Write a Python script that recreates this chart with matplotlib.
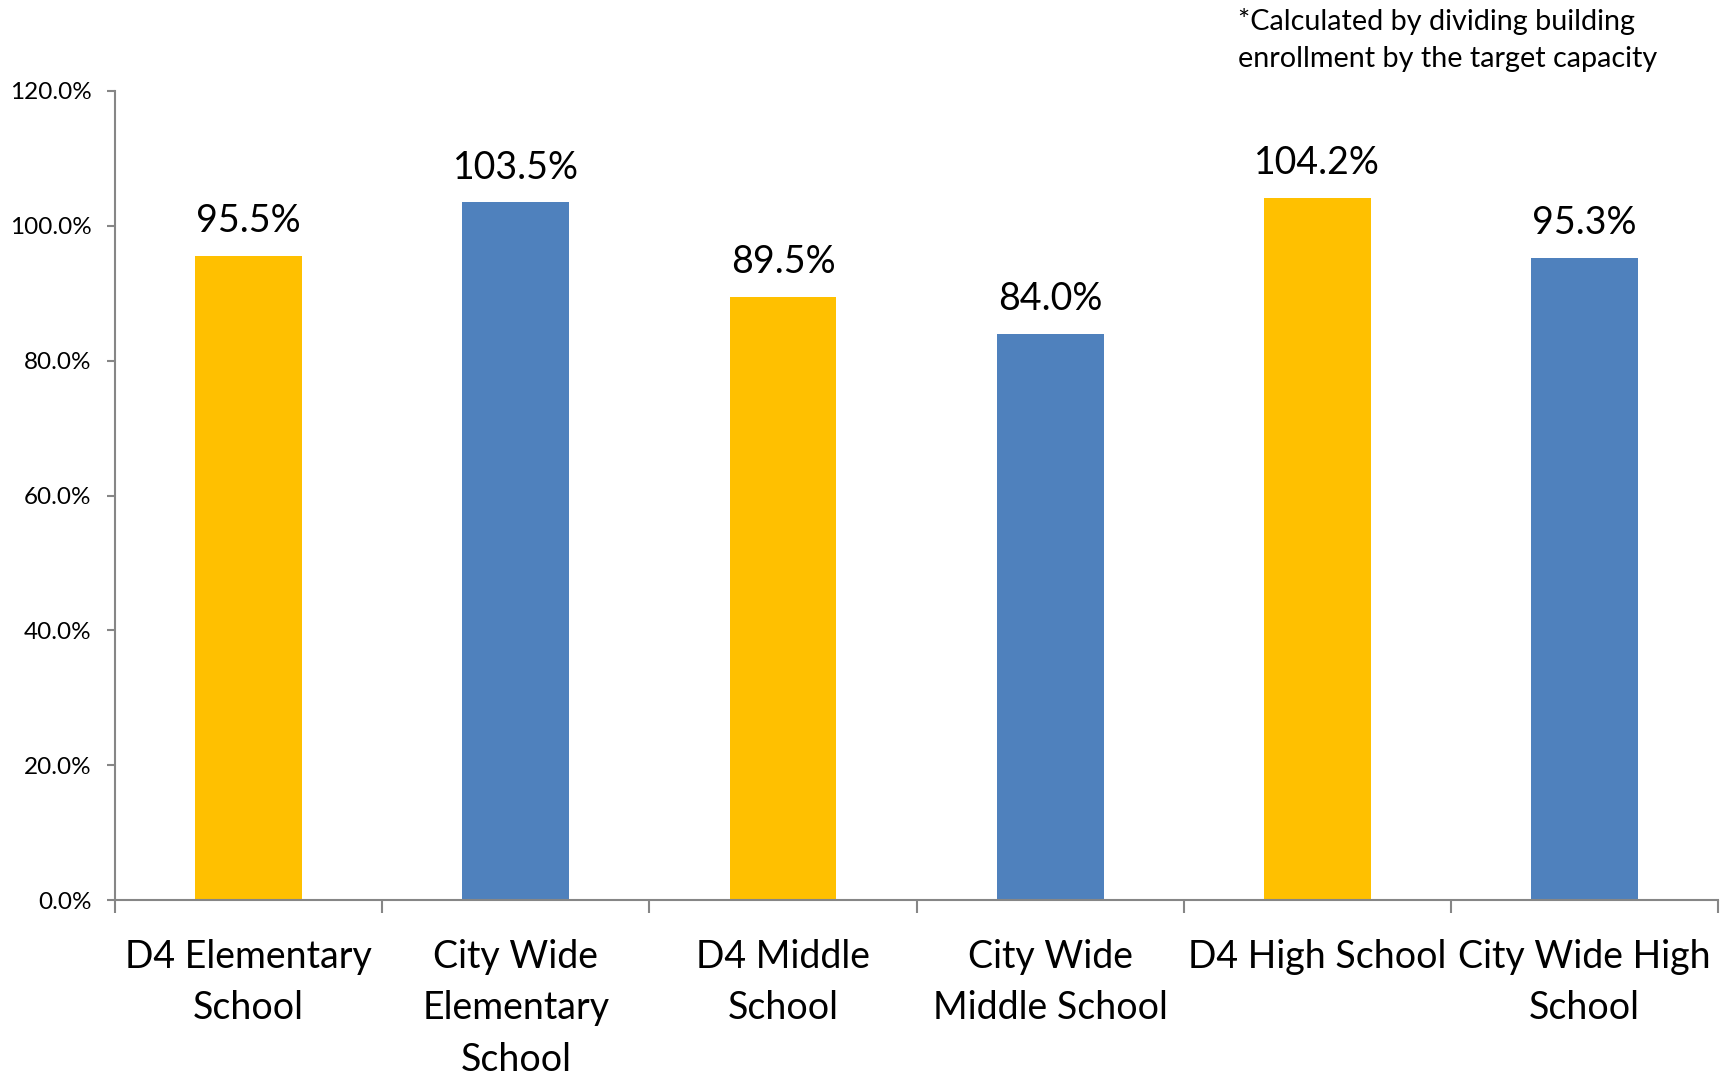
import matplotlib
matplotlib.use("Agg")
import matplotlib.pyplot as plt
from matplotlib.ticker import FuncFormatter, FixedLocator

categories = [
    "D4 Elementary\nSchool",
    "City Wide\nElementary\nSchool",
    "D4 Middle\nSchool",
    "City Wide\nMiddle School",
    "D4 High School",
    "City Wide High\nSchool",
]
utilization = [95.5, 103.5, 89.5, 84.0, 104.2, 95.3]
bar_colors = ["#FFC000", "#4F81BD", "#FFC000", "#4F81BD", "#FFC000", "#4F81BD"]
note = "*Calculated by dividing building\nenrollment by the target capacity"

plt.rcParams["font.family"] = ["Lato", "DejaVu Sans"]

fig = plt.figure(figsize=(17.32, 10.78), dpi=100)
ax = fig.add_axes([0.0664, 0.1651, 0.9256, 0.7505])

x = list(range(len(categories)))
bars = ax.bar(x, utilization, width=0.4, color=bar_colors)

for b, v in zip(bars, utilization):
    ax.annotate(f"{v:.1f}%", (b.get_x() + b.get_width() / 2, v),
                xytext=(0, 12), textcoords="offset points",
                ha="center", va="bottom", fontsize=27)

ax.set_xlim(-0.5, len(categories) - 0.5)
ax.set_ylim(0, 120)
ax.set_yticks(range(0, 121, 20))
ax.yaxis.set_major_formatter(FuncFormatter(lambda v, _: f"{v:.1f}%"))

# ticks sit on the category boundaries, labels centred under each bar
ax.xaxis.set_major_locator(FixedLocator([i - 0.5 for i in range(len(categories) + 1)]))
ax.xaxis.set_major_formatter(FuncFormatter(lambda v, _: ""))
ax.set_xticks(x, minor=True)
ax.set_xticklabels(categories, minor=True, fontsize=27, linespacing=1.53)
ax.tick_params(axis="x", which="minor", length=0, pad=28)
ax.tick_params(axis="x", which="major", length=9, width=1.5, color="#868686")
ax.tick_params(axis="y", length=6, width=1.5, color="#868686", labelsize=17.5, pad=11)

for side in ("top", "right"):
    ax.spines[side].set_visible(False)
for side in ("left", "bottom"):
    ax.spines[side].set_color("#868686")
    ax.spines[side].set_linewidth(1.5)

fig.text(0.715, 0.993, note, ha="left", va="top", fontsize=20.7, linespacing=1.55)

fig.savefig("out.png", dpi=100)
